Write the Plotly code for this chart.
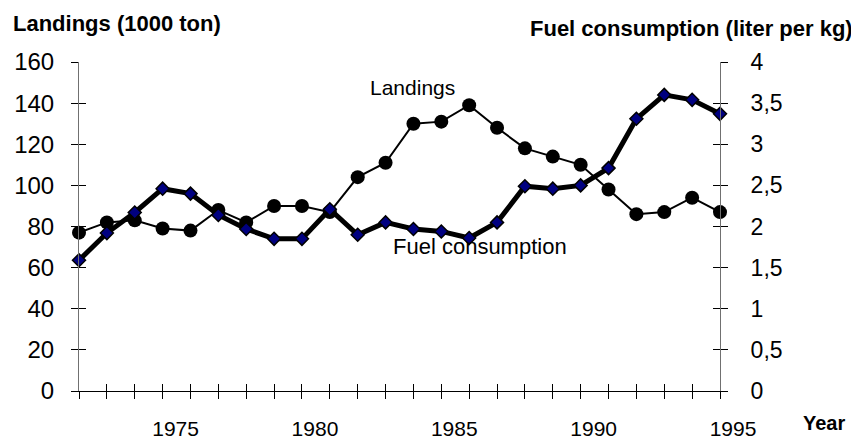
import plotly.graph_objects as go

# data
years = list(range(1972, 1996))
landings = [77, 82, 83, 79, 78, 88, 82, 90, 90, 87, 104, 111, 130, 131, 139, 128,
            118, 114, 110, 98, 86, 87, 94, 87]
fuel = [1.59, 1.92, 2.17, 2.46, 2.40, 2.14, 1.97, 1.85, 1.85, 2.21, 1.90, 2.05, 1.97,
        1.94, 1.86, 2.05, 2.49, 2.46, 2.50, 2.71, 3.31, 3.60, 3.54, 3.37]
year_labels = [str(y) if y % 5 == 0 else "" for y in years]

FONT = "Liberation Sans, Arial, sans-serif"
# page body has an 8px margin, so the figure is made a bit smaller
OFF = 8
W, H = 859 - OFF, 439 - OFF
# plot area in screenshot pixels
X0, X1, Y0, Y1 = 79, 720, 62, 391
L, R, T, B = X0 - OFF, W - (X1 - OFF), Y0 - OFF, H - (Y1 - OFF)


def px_x(p):
    return (p - X0) / (X1 - X0)


def px_y(p):
    return (Y1 - p) / (Y1 - Y0)


fig = go.Figure()

fig.add_trace(go.Scatter(
    x=years, y=landings, mode="lines+markers", name="Landings",
    line=dict(color="black", width=2),
    marker=dict(symbol="circle", size=14, color="black"),
    cliponaxis=False,
))
fig.add_trace(go.Scatter(
    x=years, y=fuel, mode="lines+markers", name="Fuel consumption", yaxis="y2",
    line=dict(color="black", width=5),
    marker=dict(symbol="diamond", size=10, color="#000080",
                line=dict(color="black", width=1.5)),
    cliponaxis=False,
))

tick_common = dict(ticklen=7, tickcolor="black", tickwidth=1, automargin=False)

fig.update_layout(
    width=W, height=H,
    margin=dict(l=L, r=R, t=T, b=B, autoexpand=False),
    paper_bgcolor="white", plot_bgcolor="white",
    showlegend=False,
    separators=",.",
    font=dict(family=FONT, color="black"),
    xaxis=dict(
        range=[1972, 1995], tickmode="array", tickvals=years, ticktext=year_labels,
        ticks="outside", showline=True, linecolor="black", linewidth=1,
        showgrid=False, zeroline=False, tickfont=dict(size=21),
        ticklabelshift=13, ticklabelstandoff=12, **tick_common,
    ),
    xaxis3=dict(
        range=[1972, 1995], overlaying="x", anchor="y", tickmode="array", tickvals=years,
        ticks="inside", showticklabels=False, showline=False, showgrid=False,
        zeroline=False, **tick_common,
    ),
    yaxis=dict(
        range=[0, 160], dtick=20, ticks="outside", showline=True, linecolor="#707070",
        linewidth=1, showgrid=False, zeroline=False, tickfont=dict(size=24),
        ticklabelstandoff=12, **tick_common,
    ),
    yaxis3=dict(
        range=[0, 160], dtick=20, overlaying="y", anchor="x", ticks="inside",
        showticklabels=False, showline=False, showgrid=False, zeroline=False,
        **tick_common,
    ),
    yaxis2=dict(
        range=[0, 4], dtick=0.5, overlaying="y", side="right", anchor="x",
        ticks="outside", showline=True, linecolor="#707070", linewidth=1,
        showgrid=False, zeroline=False, tickfont=dict(size=23),
        ticklabelstandoff=18, **tick_common,
    ),
    yaxis4=dict(
        range=[0, 4], dtick=0.5, overlaying="y", side="right", anchor="x",
        ticks="inside", showticklabels=False, showline=False, showgrid=False,
        zeroline=False, **tick_common,
    ),
)

# invisible traces so the overlay axes get drawn
fig.add_trace(go.Scatter(x=[years[0]], y=[0], xaxis="x3", yaxis="y3", mode="markers",
                         marker=dict(opacity=0), hoverinfo="skip"))
fig.add_trace(go.Scatter(x=[years[0]], y=[0], xaxis="x3", yaxis="y4", mode="markers",
                         marker=dict(opacity=0), hoverinfo="skip"))

annots = [
    dict(text="<b>Landings (1000 ton)</b>", x=px_x(11), y=px_y(24), xanchor="left", size=22),
    dict(text="<b>Fuel consumption (liter per kg)</b>", x=px_x(855), y=px_y(28),
         xanchor="right", size=22),
    dict(text="<b>Year</b>", x=px_x(824), y=px_y(423), xanchor="center", size=20),
    dict(text="Landings", x=px_x(412), y=px_y(87), xanchor="center", size=21),
    dict(text="Fuel consumption", x=px_x(480), y=px_y(247), xanchor="center", size=22),
]
for a in annots:
    fig.add_annotation(text=a["text"], x=a["x"], y=a["y"], xref="paper", yref="paper",
                       xanchor=a["xanchor"], yanchor="middle", showarrow=False,
                       font=dict(size=a["size"], family=FONT, color="black"))

fig.write_html("out.html")
